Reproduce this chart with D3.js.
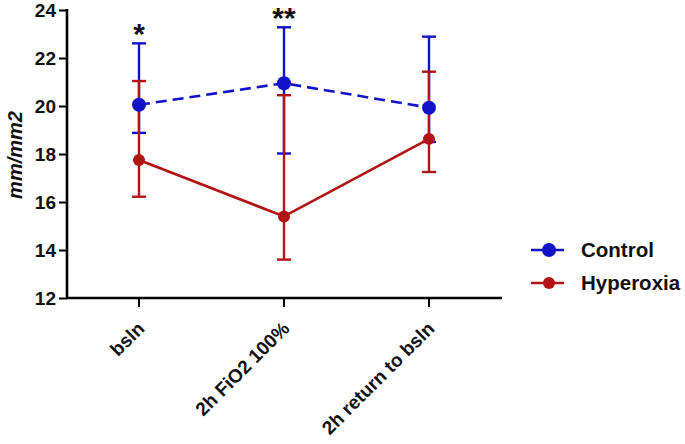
<!DOCTYPE html>
<html><head><meta charset="utf-8">
<script src="https://cdn.jsdelivr.net/npm/d3@7"></script>
<style>body{margin:0;background:#fff;}svg{display:block;}</style>
</head><body>
<script>
const categories = ["bsln", "2h FiO2 100%", "2h return to bsln"];
const controlMean = [20.05, 20.95, 19.93];
const controlHigh = [22.61, 23.28, 22.89];
const controlLow  = [18.88, 18.02, 18.50];
const hyperMean = [17.75, 15.40, 18.63];
const hyperHigh = [21.04, 20.45, 21.43];
const hyperLow  = [16.22, 13.60, 17.25];
const yTicks = [12, 14, 16, 18, 20, 22, 24];
const stars = ["*", "**", ""];
const seriesNames = ["Control", "Hyperoxia"];

const W = 685, H = 444;
const svg = d3.select("body").append("svg").attr("width", W).attr("height", H);
const font = "'Liberation Sans', Arial, sans-serif";

const y = d3.scaleLinear().domain([12, 24]).range([298, 10]);
const x = d3.scalePoint().domain(categories).range([139, 429]);
const axisX0 = 67, axisX1 = 502;

// axes
const yAxis = svg.append("g").attr("transform", `translate(${axisX0},0)`)
  .call(d3.axisLeft(y).tickValues(yTicks).tickSize(8).tickPadding(3).tickFormat(d3.format("d")));
yAxis.select(".domain").remove();
yAxis.append("line").attr("x1", 0).attr("x2", 0).attr("y1", y(24) - 1).attr("y2", y(12) + 1)
  .attr("stroke", "#000").attr("stroke-width", 2.6);
yAxis.selectAll(".tick line").attr("stroke-width", 2);
yAxis.selectAll(".tick text").attr("font-family", font).attr("font-weight", "bold")
  .attr("font-size", 19).attr("fill", "#111");

const xg = svg.append("g").attr("transform", `translate(0,${y(12)})`);
xg.append("line").attr("x1", axisX0 - 1).attr("x2", axisX1).attr("stroke", "#000").attr("stroke-width", 2.6);
const xt = xg.selectAll("g.t").data(categories).enter().append("g").attr("transform", d => `translate(${x(d)},0)`);
xt.append("line").attr("y1", 0).attr("y2", 9).attr("stroke", "#000").attr("stroke-width", 2);
xt.append("text").text(d => d)
  .attr("transform", "translate(2,27) rotate(-45)")
  .attr("text-anchor", "end").attr("dy", "0.35em")
  .attr("font-family", font).attr("font-weight", "bold").attr("font-size", 19).attr("fill", "#111");

// y label
svg.append("text").text("mm/mm2")
  .attr("transform", `translate(22,155) rotate(-90)`)
  .attr("text-anchor", "middle")
  .attr("font-family", font).attr("font-weight", "bold").attr("font-style", "italic")
  .attr("font-size", 20).attr("fill", "#111");

const blue = "#1212c8", red = "#b01414";
const series = [
  {name: seriesNames[0], mean: controlMean, hi: controlHigh, lo: controlLow, color: blue, dash: "11,6", r: 7},
  {name: seriesNames[1], mean: hyperMean, hi: hyperHigh, lo: hyperLow, color: red, dash: null, r: 6}
];

// error bars
series.forEach(s => {
  const g = svg.append("g");
  categories.forEach((c, i) => {
    const cx = x(c);
    g.append("line").attr("x1", cx).attr("x2", cx).attr("y1", y(s.hi[i])).attr("y2", y(s.lo[i]))
      .attr("stroke", s.color).attr("stroke-width", 2.4);
    [s.hi[i], s.lo[i]].forEach(v => {
      g.append("line").attr("x1", cx - 7).attr("x2", cx + 7).attr("y1", y(v)).attr("y2", y(v))
        .attr("stroke", s.color).attr("stroke-width", 2.4);
    });
  });
});

// lines and dots (red first, blue on top)
[series[1], series[0]].forEach(s => {
  const line = d3.line().x((d, i) => x(categories[i])).y(d => y(d));
  svg.append("path").attr("d", line(s.mean)).attr("fill", "none")
    .attr("stroke", s.color).attr("stroke-width", 2.6)
    .attr("stroke-dasharray", s.dash);
  svg.selectAll(null).data(s.mean).enter().append("circle")
    .attr("cx", (d, i) => x(categories[i])).attr("cy", d => y(d)).attr("r", s.r).attr("fill", s.color);
});

// significance stars
svg.selectAll("text.star").data(stars).enter().append("text")
  .text(d => d)
  .attr("x", (d, i) => x(categories[i]))
  .attr("y", (d, i) => y(controlHigh[i]) + 0.3)
  .attr("text-anchor", "middle")
  .attr("font-family", font).attr("font-weight", "bold").attr("font-size", 30).attr("fill", "#111");

// legend
const leg = svg.append("g");
series.forEach((s, i) => {
  const ly = 250 + i * 33;
  leg.append("line").attr("x1", 531).attr("x2", 564).attr("y1", ly).attr("y2", ly)
    .attr("stroke", s.color).attr("stroke-width", 2.6).attr("stroke-dasharray", i === 0 ? "13,4,3,4" : null);
  leg.append("circle").attr("cx", 549).attr("cy", ly).attr("r", s.r).attr("fill", s.color);
  leg.append("text").text(s.name).attr("x", 581).attr("y", ly).attr("dy", "0.36em")
    .attr("font-family", font).attr("font-weight", "bold").attr("font-size", 20.5).attr("fill", "#111");
});
</script>
</body></html>
